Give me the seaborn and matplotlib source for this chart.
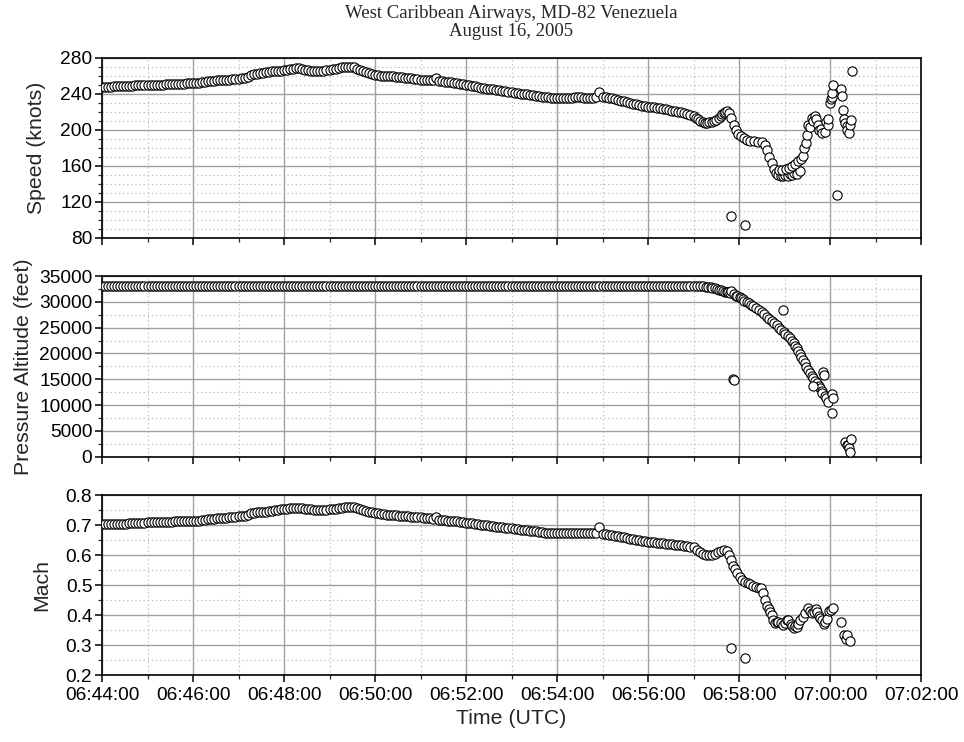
import matplotlib
matplotlib.use('Agg')
import matplotlib.pyplot as plt
import matplotlib.dates as mdates
from matplotlib.ticker import MultipleLocator
import pandas as pd
import seaborn as sns

# FDR trace, seconds after 06:44:00 UTC (one row = one minute of cruise)
t_cruise = [
    0, 4, 8, 12, 16, 20, 24, 28, 32, 36, 40, 44, 48, 52, 56,
    60, 64, 68, 72, 76, 80, 84, 88, 92, 96, 100, 104, 108, 112, 116,
    120, 124, 128, 132, 136, 140, 144, 148, 152, 156, 160, 164, 168, 172, 176,
    180, 184, 188, 192, 196, 200, 204, 208, 212, 216, 220, 224, 228, 232, 236,
    240, 244, 248, 252, 256, 260, 264, 268, 272, 276, 280, 284, 288, 292, 296,
    300, 304, 308, 312, 316, 320, 324, 328, 332, 336, 340, 344, 348, 352, 356,
    360, 364, 368, 372, 376, 380, 384, 388, 392, 396, 400, 404, 408, 412, 416,
    420, 424, 428, 432, 436, 440, 444, 448, 452, 456, 460, 464, 468, 472, 476,
    480, 484, 488, 492, 496, 500, 504, 508, 512, 516, 520, 524, 528, 532, 536,
    540, 544, 548, 552, 556, 560, 564, 568, 572, 576, 580, 584, 588, 592, 596,
    600, 604, 608, 612, 616, 620, 624, 628, 632, 636, 640, 644, 648, 652, 656,
    660, 664, 668, 672, 676, 680, 684, 688, 692, 696, 700, 704, 708, 712, 716,
    720, 724, 728, 732, 736, 740, 744, 748, 752, 756, 760, 764, 768, 772, 776,
]

speed_cruise = [
    248, 248, 248, 248, 248.5, 248.5, 248.5, 249, 249, 249, 249, 249.5, 249.5, 249.5, 250,
    250, 250, 250, 250.5, 250.5, 250.5, 251, 251, 251, 251, 251.5, 251.5, 251.5, 252, 252,
    252, 252.5, 252.5, 253, 253.5, 254, 254, 254.5, 255, 255, 255.5, 256, 256, 256.5, 257,
    257, 257.5, 258, 259, 261, 262, 262.5, 263, 263.5, 264, 264.5, 265, 265.5, 265.5, 266,
    267, 267, 267.5, 268, 268.5, 268.5, 268, 267, 266.5, 266, 265.5, 265.5, 266, 266, 266.5,
    267, 267.5, 268, 268.5, 269.5, 270, 270.5, 270.5, 269.5, 268, 266.5, 265, 264, 263, 262,
    261.5, 261, 260.5, 260, 260, 259.5, 259.5, 259, 258.5, 258.5, 258, 257.5, 257.5, 257, 256.5,
    256, 256, 255.5, 255, 255, 257.5, 254.5, 254, 253.5, 253.5, 253, 252.5, 252, 251.5, 251,
    250.5, 250, 249, 248.5, 248, 247, 246.5, 246, 245.5, 245, 244.5, 244, 243.5, 243, 242.5,
    242, 241.5, 241, 240.5, 240, 239.5, 239, 238.5, 238, 237.5, 237, 236.5, 236.5, 236, 236,
    235.5, 235.5, 235.5, 236, 236, 236, 236.5, 236.5, 236.5, 236, 236, 235.5, 236, 236.5, 242,
    237, 236.5, 235.5, 235, 234, 233.5, 232.5, 232, 231, 230, 229, 228.5, 228, 227, 226.5,
    226, 225.5, 225, 224.5, 224, 223.5, 223, 222, 221.5, 221, 220, 219.5, 219, 218, 217,
]

alt_cruise = [
    33000, 33000, 33000, 33000, 33000, 33000, 33000, 33000, 33000, 33000, 33000, 33000, 33000, 33000, 33000,
    33000, 33000, 33000, 33000, 33000, 33000, 33000, 33000, 33000, 33000, 33000, 33000, 33000, 33000, 33000,
    33000, 33000, 33000, 33000, 33000, 33000, 33000, 33000, 33000, 33000, 33000, 33000, 33000, 33000, 33000,
    33000, 33000, 33000, 33000, 33000, 33000, 33000, 33000, 33000, 33000, 33000, 33000, 33000, 33000, 33000,
    33000, 33000, 33000, 33000, 33000, 33000, 33000, 33000, 33000, 33000, 33000, 33000, 33000, 33000, 33000,
    33000, 33000, 33000, 33000, 33000, 33000, 33000, 33000, 33000, 33000, 33000, 33000, 33000, 33000, 33000,
    33000, 33000, 33000, 33000, 33000, 33000, 33000, 33000, 33000, 33000, 33000, 33000, 33000, 33000, 33000,
    33000, 33000, 33000, 33000, 33000, 33000, 33000, 33000, 33000, 33000, 33000, 33000, 33000, 33000, 33000,
    33000, 33000, 33000, 33000, 33000, 33000, 33000, 33000, 33000, 33000, 33000, 33000, 33000, 33000, 33000,
    33000, 33000, 33000, 33000, 33000, 33000, 33000, 33000, 33000, 33000, 33000, 33000, 33000, 33000, 33000,
    33000, 33000, 33000, 33000, 33000, 33000, 33000, 33000, 33000, 33000, 33000, 33000, 33000, 33000, 33000,
    33000, 33000, 33000, 33000, 33000, 33000, 33000, 33000, 33000, 33000, 33000, 33000, 33000, 33000, 33000,
    33000, 33000, 33000, 33000, 33000, 33000, 33000, 33000, 33000, 33000, 33000, 33000, 33000, 33000, 33000,
]

mach_cruise = [
    .703, .703, .703, .704, .704, .704, .705, .705, .705, .706, .706, .707, .707, .708, .708,
    .709, .709, .709, .710, .710, .710, .711, .711, .711, .712, .712, .712, .712, .713, .713,
    .713, .714, .715, .716, .717, .719, .720, .721, .722, .723, .724, .725, .726, .726, .727,
    .729, .730, .731, .734, .739, .741, .742, .743, .744, .745, .746, .748, .749, .750, .752,
    .755, .755, .756, .757, .757, .757, .756, .755, .754, .752, .751, .750, .750, .750, .751,
    .752, .753, .754, .756, .757, .759, .760, .761, .760, .757, .754, .751, .748, .745, .742,
    .740, .739, .737, .736, .735, .734, .733, .732, .731, .730, .729, .729, .728, .727, .727,
    .726, .725, .723, .722, .721, .728, .718, .717, .716, .715, .714, .713, .712, .711, .710,
    .708, .707, .706, .704, .703, .701, .700, .699, .697, .696, .695, .693, .692, .691, .690,
    .689, .688, .686, .685, .684, .682, .681, .680, .679, .677, .676, .675, .674, .673, .673,
    .672, .672, .672, .672, .673, .673, .673, .674, .674, .673, .673, .672, .672, .672, .694,
    .671, .670, .668, .667, .665, .663, .661, .659, .657, .655, .653, .651, .649, .648, .646,
    .645, .644, .642, .641, .640, .639, .638, .637, .636, .635, .634, .632, .631, .630, .628,
]

# upset and descent: (seconds after 06:44:00, value)
speed_tail = [
    (780, 215), (783, 213), (786, 212), (789, 210), (792, 209), (795, 208),
    (798, 208), (801, 208.5), (804, 209), (807, 210), (810, 211), (813, 213),
    (816, 216), (818, 218), (820, 219), (822, 220), (824, 221), (827, 219),
    (830, 213), (833, 205), (836, 200), (839, 196), (842, 193), (846, 191),
    (850, 189), (855, 188), (860, 187.5), (865, 187), (870, 187), (874, 183),
    (877, 178), (880, 170), (883, 163), (886, 157), (889, 152), (892, 150),
    (895, 149), (898, 148.5), (901, 150), (904, 149), (907, 151), (910, 150),
    (913, 152), (916, 151), (920, 154), (893, 156), (897, 155), (902, 157),
    (906, 158), (910, 160), (914, 162), (918, 165), (922, 168), (924, 171),
    (926, 180), (928, 186), (930, 194), (931, 206), (934, 203), (936, 213),
    (938, 210), (940, 215), (942, 212), (944, 205), (946, 200), (948, 201),
    (950, 197), (953, 198), (955, 209), (957, 206), (958, 212), (960, 230),
    (961, 234), (962, 237), (963, 241), (964, 250), (975, 245), (976, 238),
    (977, 222), (979, 212), (980, 208), (982, 204), (983, 200), (985, 197),
    (986, 206), (988, 211), (989, 266), (829, 104), (848, 94), (969, 128),
]

alt_tail = [
    (780, 33000), (784, 33000), (788, 33000), (792, 32980), (797, 32950), (799, 32900),
    (803, 32800), (805, 32700), (808, 32600), (811, 32420), (813, 32330),
    (816, 32200), (819, 32100), (822, 31960), (824, 31900), (826, 31850),
    (828, 31800), (830, 32030), (833, 31500), (836, 31200), (838, 31050),
    (841, 30870), (843, 30650), (845, 30450), (847, 30250), (850, 30030),
    (853, 29700), (856, 29400), (859, 29100), (863, 28740), (866, 28350),
    (870, 27950), (873, 27600), (877, 27120), (880, 26700), (883, 26300),
    (886, 25900), (890, 25510), (893, 25000), (896, 24540), (899, 24200),
    (901, 23800), (904, 23350), (907, 22930), (910, 22450), (912, 22000),
    (914, 21500), (916, 21000), (918, 20450), (920, 19900), (922, 19300),
    (925, 18730), (927, 18100), (929, 17430), (931, 16800), (934, 16150),
    (936, 15600), (938, 15180), (940, 14700), (943, 14220), (945, 13700),
    (947, 13250), (949, 12800), (950, 12400), (953, 11800), (955, 11310),
    (957, 10650), (832, 15000), (834, 14950), (898, 28410), (951, 16470),
    (952, 15830), (963, 12150), (964, 11310), (962, 8400), (938, 13700),
    (980, 2910), (982, 2300), (984, 2270), (985, 1630), (987, 970), (988, 3370),
]

mach_tail = [
    (780, .627), (784, .618), (788, .610), (792, .605), (796, .601), (800, .600),
    (804, .601), (808, .604), (812, .609), (816, .614), (820, .617), (824, .614),
    (827, .600), (830, .585), (832, .563), (835, .552), (838, .539), (841, .526),
    (844, .518), (848, .511), (852, .506), (855, .503), (859, .498), (863, .494),
    (867, .490), (869, .489), (871, .472), (874, .450), (877, .430), (879, .419),
    (881, .410), (883, .400), (885, .385), (887, .372), (890, .378), (892, .378),
    (895, .372), (898, .367), (901, .375), (903, .383), (905, .383), (908, .370),
    (910, .365), (912, .356), (914, .362), (916, .361), (918, .370), (920, .383),
    (924, .395), (927, .406), (931, .424), (934, .415), (936, .406), (939, .410),
    (941, .419), (943, .410), (945, .397), (947, .390), (949, .383), (952, .370),
    (954, .378), (956, .386), (959, .413), (961, .418), (964, .424), (975, .378),
    (978, .333), (981, .319), (983, .333), (986, .312), (829, .289), (848, .256),
]

start = pd.Timestamp('2005-08-16 06:44:00')


def make_frame(cruise_t, cruise_v, tail, name):
    secs = list(cruise_t) + [p[0] for p in tail]
    vals = list(cruise_v) + [p[1] for p in tail]
    return pd.DataFrame({'time': start + pd.to_timedelta(secs, unit='s'), name: vals})


sns.set_theme(style='white')
plt.rcParams['font.family'] = ['Liberation Sans', 'DejaVu Sans']

fig = plt.figure(figsize=(9.64, 7.42), dpi=100)
left, width = 102 / 964, 819 / 964
ax_speed = fig.add_axes([left, 1 - 238 / 742, width, 180 / 742])
ax_alt = fig.add_axes([left, 1 - 456.7 / 742, width, 180.7 / 742], sharex=ax_speed)
ax_mach = fig.add_axes([left, 1 - 675 / 742, width, 180 / 742], sharex=ax_speed)

panels = [
    (ax_speed, make_frame(t_cruise, speed_cruise, speed_tail, 'speed'), 'speed',
     'Speed (knots)', (80, 280), 40, 10, -0.068),
    (ax_alt, make_frame(t_cruise, alt_cruise, alt_tail, 'alt'), 'alt',
     'Pressure Altitude (feet)', (0, 35000), 5000, 2500, -0.084),
    (ax_mach, make_frame(t_cruise, mach_cruise, mach_tail, 'mach'), 'mach',
     'Mach', (0.2, 0.8), 0.1, 0.05, -0.062),
]

for ax, df, col, label, ylim, major, minor, labx in panels:
    sns.scatterplot(data=df, x='time', y=col, ax=ax, marker='o', s=44,
                    color='white', edgecolor='black', linewidth=0.8,
                    legend=False, zorder=3)
    ax.set_ylim(*ylim)
    ax.yaxis.set_major_locator(MultipleLocator(major))
    ax.yaxis.set_minor_locator(MultipleLocator(minor))
    ax.grid(which='major', color='#a0a0a0', linewidth=1.0)
    ax.grid(which='minor', color='#bdbdbd', linewidth=0.8, linestyle=(0, (1.2, 2.5)))
    ax.set_axisbelow(True)
    for sp in ax.spines.values():
        sp.set_color('black')
        sp.set_linewidth(1.2)
    ax.tick_params(which='major', direction='out', length=5, width=1.1,
                   labelsize=13.8, pad=2, colors='black', bottom=True, left=True)
    ax.tick_params(which='minor', direction='out', length=3, width=0.9,
                   bottom=True, left=True)
    ax.set_ylabel(label, fontsize=15.3)
    ax.yaxis.set_label_coords(labx, 0.5)
    ax.set_xlabel('')

ax_speed.set_xlim(start, start + pd.Timedelta(minutes=18))
ax_mach.xaxis.set_major_locator(mdates.MinuteLocator(byminute=range(0, 60, 2)))
ax_mach.xaxis.set_minor_locator(mdates.MinuteLocator())
ax_mach.xaxis.set_major_formatter(mdates.DateFormatter('%H:%M:%S'))
ax_mach.tick_params(axis='x', which='major', pad=3.5)
ax_speed.tick_params(labelbottom=False)
ax_alt.tick_params(labelbottom=False)
ax_mach.set_xlabel('Time (UTC)', fontsize=15.3, labelpad=4)

fig.text(511.5 / 964, 1 - 22.5 / 742, 'West Caribbean Airways, MD-82 Venezuela\nAugust 16, 2005',
         ha='center', va='center', fontsize=13.5, linespacing=1.1,
         family=['Liberation Serif', 'DejaVu Serif'])

fig.savefig('out.png', dpi=100)
